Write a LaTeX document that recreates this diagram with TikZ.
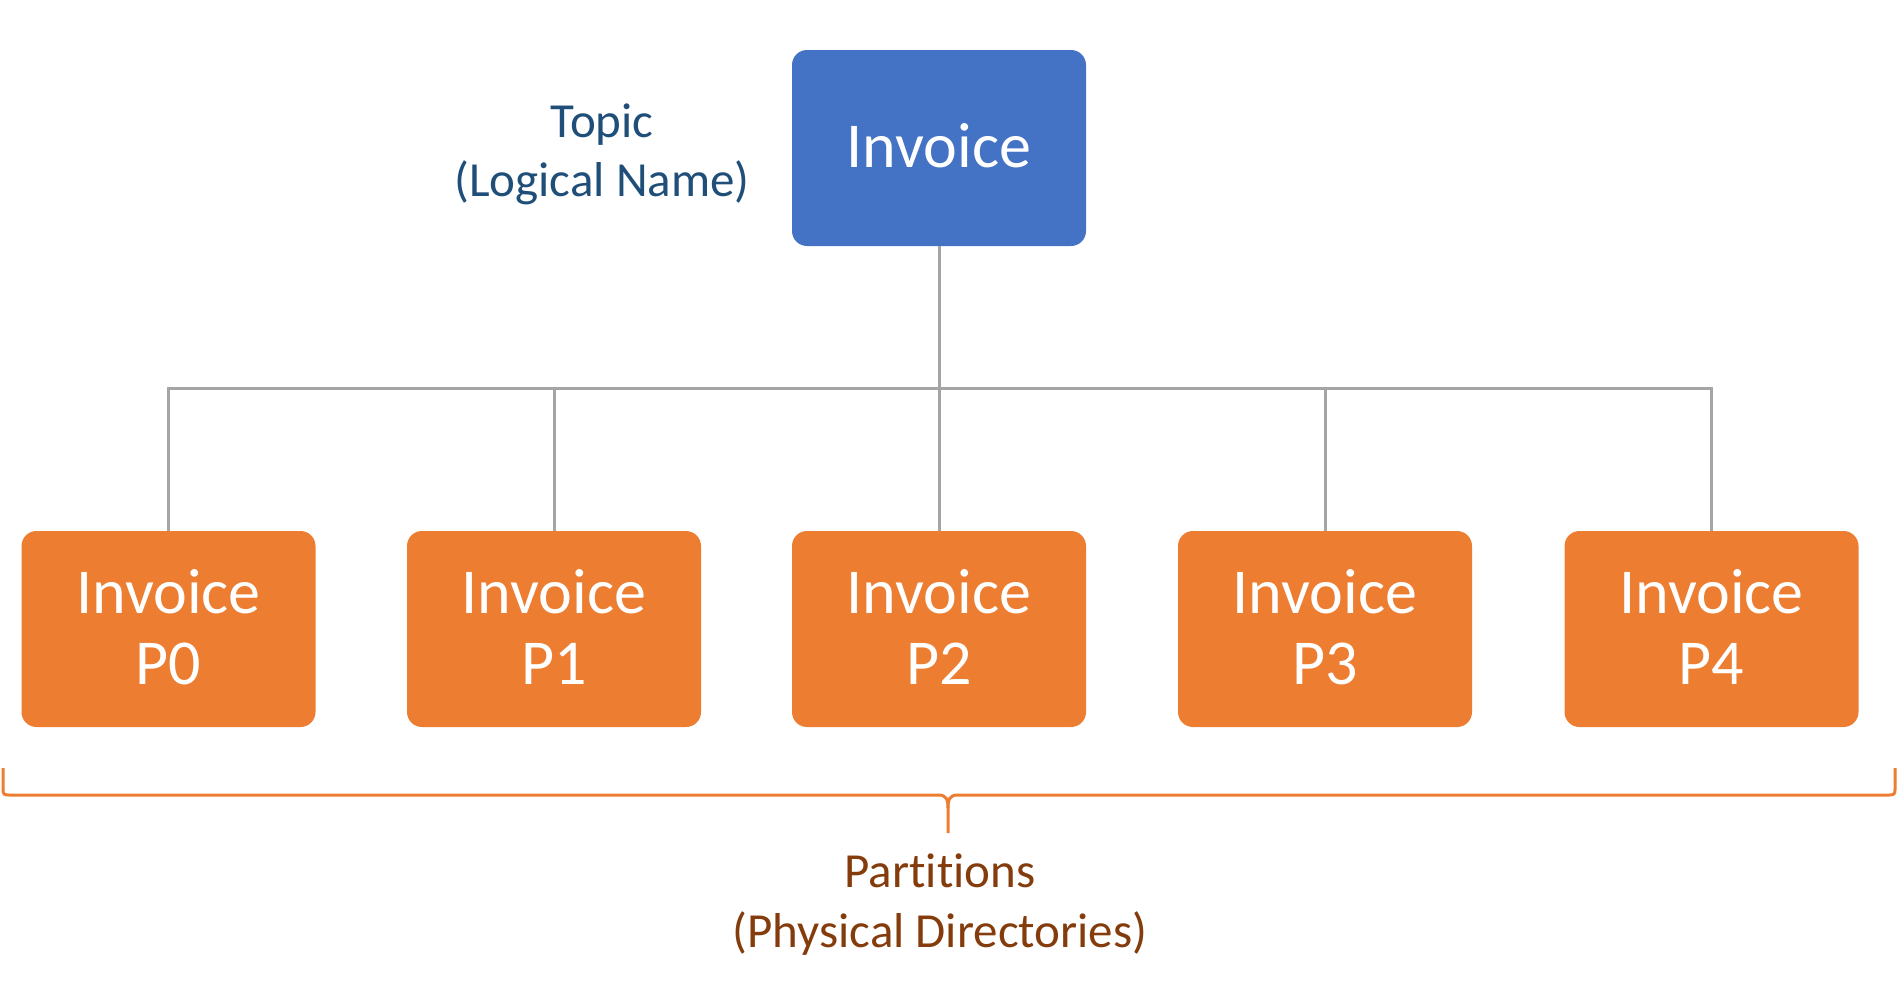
\documentclass[tikz,border=0pt]{standalone}
\usepackage{fontspec}
\setmainfont[Ligatures=NoCommon]{Carlito}
\definecolor{boxblue}{HTML}{4472C4}
\definecolor{boxorange}{HTML}{ED7D31}
\definecolor{linegray}{HTML}{A5A5A5}
\definecolor{topicblue}{HTML}{1F4E79}
\definecolor{partbrown}{HTML}{843C0C}
\tikzset{
  box/.style={rectangle, rounded corners=15pt, minimum width=294pt, minimum height=196pt,
    inner sep=0pt, align=center, text=white, text depth=5pt, font=\fontsize{64}{71}\selectfont},
  topicbox/.style={box, fill=boxblue},
  partbox/.style={box, fill=boxorange},
  conn/.style={draw=linegray, line width=3pt},
  bracestyle/.style={draw=boxorange, line width=3pt, line join=round},
  caption/.style={align=center, inner sep=0pt}
}
\begin{document}
\begin{tikzpicture}[x=1pt,y=-1pt]
\useasboundingbox (0,0) rectangle (1897,991);
\node[topicbox] (top) at (939,148) {Invoice};
\node[partbox] (p0) at (168.5,629) {Invoice\\P0};
\node[partbox] (p1) at (554,629) {Invoice\\P1};
\node[partbox] (p2) at (939,629) {Invoice\\P2};
\node[partbox] (p3) at (1325,629) {Invoice\\P3};
\node[partbox] (p4) at (1711.5,629) {Invoice\\P4};
\coordinate (bar) at (0,388);
\foreach \p in {p0,p1,p2,p3,p4}{
  \draw[conn] (top.south) -- (top.south |- bar) -| (\p.north);
}
\node[caption, text=topicblue, font=\fontsize{49}{59}\selectfont] (topic) at (602,154) {Topic\\(Logical Name)};
\coordinate (bl) at (3,768);
\coordinate (br) at (1895,768);
\coordinate (btip) at (948,833);
\draw[bracestyle] (bl) -- (3,787) .. controls (3,795) .. (11,795) -- (938,795)
  .. controls (947,795) and (948,800) .. (948,808) -- (btip);
\draw[bracestyle] (948,808) .. controls (948,800) and (949,795) .. (958,795) -- (1887,795)
  .. controls (1895,795) .. (1895,787) -- (br);
\node[caption, text=partbrown, font=\fontsize{49}{60}\selectfont] (parts) at (940,905) {Partitions\\(Physical Directories)};
\end{tikzpicture}
\end{document}
